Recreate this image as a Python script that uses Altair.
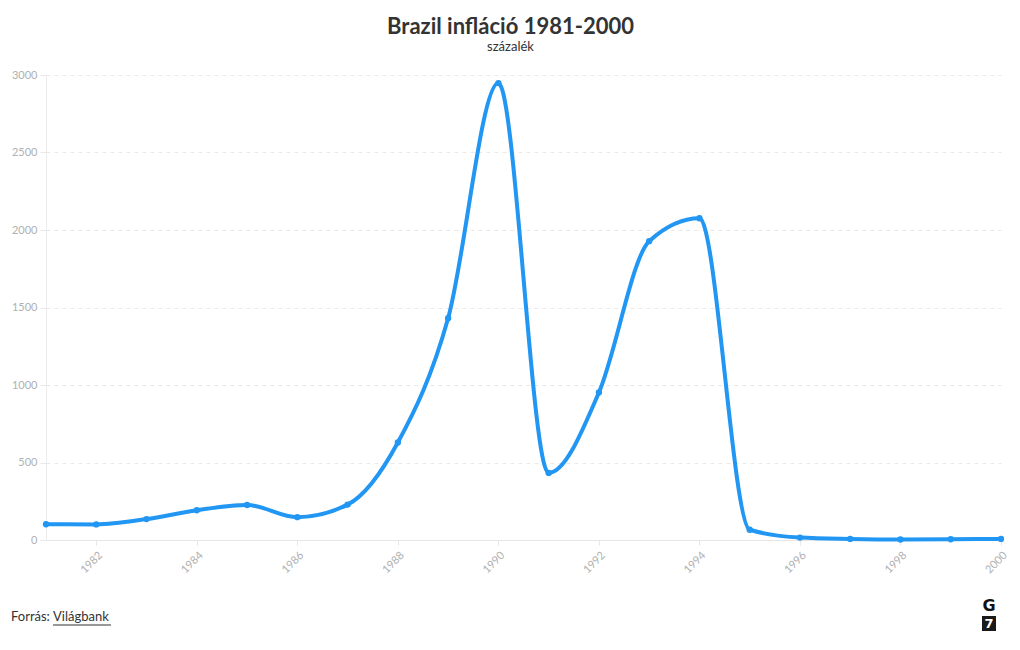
import altair as alt
import pandas as pd

years = list(range(1981, 2001))
inflation = [101.7, 100.5, 135.0, 192.1, 226.0, 147.1, 228.3, 629.1, 1430.7, 2947.7,
             432.8, 951.6, 1928.0, 2075.9, 66.0, 15.8, 6.9, 3.2, 4.9, 7.0]
x_ticks = list(range(1982, 2001, 2))
y_ticks = [0, 500, 1000, 1500, 2000, 2500, 3000]

df = pd.DataFrame({"ev": years, "inflacio": inflation})

FONT = "Lato"
BLUE = "#2196F3"
W, H = 955, 465

x_enc = alt.X("ev:Q", scale=alt.Scale(domain=[1981, 2000], nice=False, zero=False),
              axis=alt.Axis(values=x_ticks, format="d", labelAngle=-45, title=None,
                            grid=False, labelColor="#b0b0b0", labelFontSize=11,
                            domainColor="#e6e6e6", tickColor="#e6e6e6", tickSize=5,
                            labelFont=FONT, labelPadding=4))
y_enc = alt.Y("inflacio:Q", scale=alt.Scale(domain=[0, 3000], nice=False),
              axis=alt.Axis(values=y_ticks, format="d", title=None, grid=True, gridDash=[4, 4],
                            gridColor="#e8e8e8", labelColor="#b0b0b0", labelFontSize=11,
                            domainColor="#ececec", tickColor="#e8e8e8", tickSize=6,
                            labelFont=FONT, labelPadding=3))

line = alt.Chart(df).mark_line(color=BLUE, strokeWidth=4, interpolate="monotone").encode(x=x_enc, y=y_enc)
pts = alt.Chart(df).mark_circle(color=BLUE, size=40, opacity=1).encode(x="ev:Q", y="inflacio:Q")

src = pd.DataFrame({"t": ["Forrás: "]})
footer1 = alt.Chart(src).mark_text(align="left", baseline="middle", fontSize=13, font=FONT,
                                   color="#333333").encode(
    text="t:N", x=alt.value(-35), y=alt.value(542))
src2 = pd.DataFrame({"t": ["Világbank"]})
footer2 = alt.Chart(src2).mark_text(align="left", baseline="middle", fontSize=13, font=FONT,
                                    color="#333333").encode(
    text="t:N", x=alt.value(7), y=alt.value(542))
underline = alt.Chart(src2).mark_rule(color="#333333", strokeWidth=1).encode(
    x=alt.value(7), x2=alt.value(65), y=alt.value(550))

logo_g = alt.Chart(pd.DataFrame({"t": ["G"]})).mark_text(
    align="center", baseline="middle", fontSize=16, fontWeight="bold", font="DejaVu Sans",
    color="#111111").encode(text="t:N", x=alt.value(943), y=alt.value(531))
logo_box = alt.Chart(pd.DataFrame({"t": ["7"]})).mark_rect(color="#1a1a1a").encode(
    x=alt.value(936), x2=alt.value(950), y=alt.value(541), y2=alt.value(556))
logo_7 = alt.Chart(pd.DataFrame({"t": ["7"]})).mark_text(
    align="center", baseline="middle", fontSize=13, fontWeight="bold", font="DejaVu Sans",
    color="#ffffff").encode(text="t:N", x=alt.value(943), y=alt.value(549))

chart = alt.layer(line, pts, footer1, footer2, underline, logo_g, logo_box, logo_7).properties(
    width=W, height=H,
    title=alt.TitleParams(text="Brazil infláció 1981-2000", subtitle="százalék",
                          font=FONT, fontSize=22, fontWeight="bold", color="#333333",
                          subtitleFont=FONT, subtitleFontSize=13, subtitleColor="#333333",
                          anchor="middle", offset=14, subtitlePadding=2, dx=-13),
    padding={"left": 38, "top": 67, "right": 11, "bottom": 102},
    autosize=alt.AutoSizeParams(type="none"),
).configure_view(stroke=None)

chart.save("out.html", embed_options={"renderer": "svg", "actions": False})
